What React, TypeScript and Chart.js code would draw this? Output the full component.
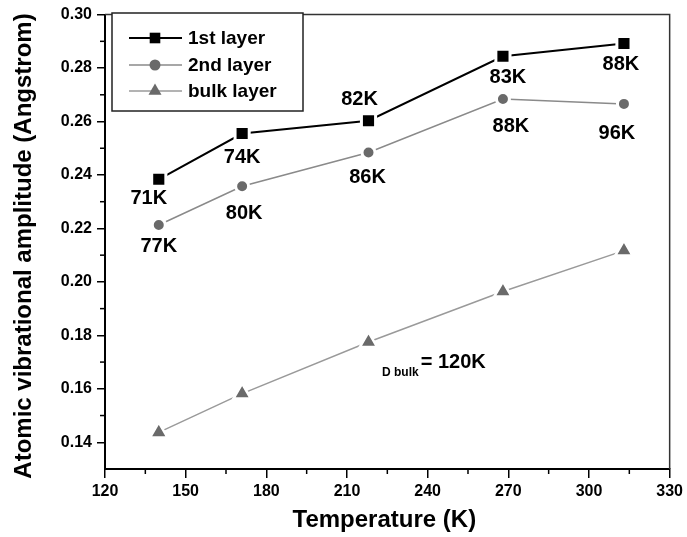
import React, { useEffect, useRef } from 'react';
import { Chart, registerables } from 'chart.js';

Chart.register(...registerables);

// ---- data ----
const temperatures = [140, 171, 218, 268, 313];
const firstLayer = [0.2384, 0.2555, 0.2603, 0.2844, 0.2892];
const secondLayer = [0.2213, 0.2358, 0.2484, 0.2684, 0.2666];
const bulkLayer = [0.1437, 0.1582, 0.1775, 0.1964, 0.2117];
const firstLabels = ['71K', '74K', '82K', '83K', '88K'];
const secondLabels = ['77K', '80K', '86K', '88K', '96K'];
const seriesNames = ['1st layer', '2nd layer', 'bulk layer'];
const xTicks = [120, 150, 180, 210, 240, 270, 300, 330];
const yTicks = [0.14, 0.16, 0.18, 0.2, 0.22, 0.24, 0.26, 0.28, 0.3];
const xMinorTicks = [135, 165, 195, 225, 255, 285, 315];
const yMinorTicks = [0.15, 0.17, 0.19, 0.21, 0.23, 0.25, 0.27, 0.29];
const xTitle = 'Temperature (K)';
const yTitle = 'Atomic vibrational amplitude (Angstrom)';
const annotationSub = 'D bulk';
const annotationMain = '= 120K';

// ---- label placement (pixel offsets from their point) ----
const firstOffsets = [[-10, 19], [0, 24], [-9, -21], [5, 21], [-3, 21]];
const secondOffsets = [[0, 22], [2, 27], [-1, 25], [8, 27], [-7, 30]];
const annotationAnchor = { x: 237.4, y: 0.1697 };

const FONT = "'Liberation Sans', Arial, Helvetica, sans-serif";

function drawMarker(ctx: CanvasRenderingContext2D, style: string, x: number, y: number, r: number, fill: string) {
  ctx.fillStyle = fill;
  ctx.beginPath();
  if (style === 'rect') {
    const s = r * Math.SQRT1_2;
    ctx.rect(x - s, y - s, 2 * s, 2 * s);
  } else if (style === 'circle') {
    ctx.arc(x, y, r, 0, Math.PI * 2);
  } else {
    ctx.moveTo(x, y - r);
    ctx.lineTo(x + r * 0.866, y + r * 0.5);
    ctx.lineTo(x - r * 0.866, y + r * 0.5);
    ctx.closePath();
  }
  ctx.fill();
}

const decorPlugin = {
  id: 'decor',
  afterDraw(chart: any) {
    const ctx: CanvasRenderingContext2D = chart.ctx;
    const a = chart.chartArea;
    const xs = chart.scales.x;
    const ys = chart.scales.y;
    ctx.save();

    // top & right frame
    ctx.strokeStyle = '#333';
    ctx.lineWidth = 1.5;
    ctx.beginPath();
    ctx.moveTo(a.left, a.top);
    ctx.lineTo(a.right, a.top);
    ctx.lineTo(a.right, a.bottom);
    ctx.stroke();

    // minor ticks
    ctx.strokeStyle = '#000';
    ctx.lineWidth = 1.5;
    xMinorTicks.forEach((v) => {
      const px = xs.getPixelForValue(v);
      ctx.beginPath();
      ctx.moveTo(px, a.bottom);
      ctx.lineTo(px, a.bottom + 5);
      ctx.stroke();
    });
    yMinorTicks.forEach((v) => {
      const py = ys.getPixelForValue(v);
      ctx.beginPath();
      ctx.moveTo(a.left, py);
      ctx.lineTo(a.left - 5, py);
      ctx.stroke();
    });

    // point labels
    ctx.fillStyle = '#000';
    ctx.font = `bold 20px ${FONT}`;
    ctx.textAlign = 'center';
    ctx.textBaseline = 'middle';
    const m0 = chart.getDatasetMeta(0).data;
    const m1 = chart.getDatasetMeta(1).data;
    firstLabels.forEach((t, i) => {
      const p = m0[i];
      ctx.fillText(t, p.x + firstOffsets[i][0], p.y + firstOffsets[i][1]);
    });
    secondLabels.forEach((t, i) => {
      const p = m1[i];
      ctx.fillText(t, p.x + secondOffsets[i][0], p.y + secondOffsets[i][1]);
    });

    // annotation
    const ax = xs.getPixelForValue(annotationAnchor.x);
    const ay = ys.getPixelForValue(annotationAnchor.y);
    ctx.textAlign = 'left';
    ctx.font = `bold 20px ${FONT}`;
    ctx.fillText(annotationMain, ax, ay);
    ctx.textAlign = 'right';
    ctx.font = `bold 12px ${FONT}`;
    ctx.fillText(annotationSub, ax - 2, ay + 10);

    // legend
    const lx = 112, ly = 13, lw = 191, lh = 98;
    ctx.fillStyle = '#fff';
    ctx.fillRect(lx, ly, lw, lh);
    ctx.strokeStyle = '#222';
    ctx.lineWidth = 1.5;
    ctx.strokeRect(lx, ly, lw, lh);
    const rows = [38, 65, 91];
    chart.data.datasets.forEach((ds: any, i: number) => {
      const y = rows[i];
      ctx.strokeStyle = ds.borderColor;
      ctx.lineWidth = ds.borderWidth;
      ctx.beginPath();
      ctx.moveTo(129, y);
      ctx.lineTo(182, y);
      ctx.stroke();
      drawMarker(ctx, ds.pointStyle, 155, y, ds.legendRadius, ds.pointBackgroundColor);
      ctx.fillStyle = '#000';
      ctx.font = `bold 19px ${FONT}`;
      ctx.textAlign = 'left';
      ctx.textBaseline = 'middle';
      ctx.fillText(ds.label, 188, y + 1);
    });

    // axis titles
    ctx.fillStyle = '#000';
    ctx.font = `bold 24px ${FONT}`;
    ctx.textAlign = 'center';
    ctx.textBaseline = 'middle';
    ctx.fillText(xTitle, (a.left + a.right) / 2 - 3, 520);
    ctx.save();
    ctx.translate(24, 246);
    ctx.rotate(-Math.PI / 2);
    ctx.font = `bold 24px ${FONT}`;
    ctx.fillText(yTitle, 0, 0);
    ctx.restore();

    ctx.restore();
  },
};

export default function App() {
  const ref = useRef<HTMLCanvasElement | null>(null);

  useEffect(() => {
    document.body.style.margin = '0';
    const canvas = ref.current;
    if (!canvas) return;
    const toPts = (ys: number[]) => temperatures.map((x, i) => ({ x, y: ys[i] }));
    const chart = new Chart(canvas, {
      type: 'scatter',
      data: {
        datasets: [
          {
            label: seriesNames[0],
            data: toPts(firstLayer),
            showLine: true,
            borderColor: '#000',
            borderWidth: 2,
            pointStyle: 'rect',
            pointRadius: 10,
            pointBackgroundColor: '#000',
            pointBorderColor: '#fff',
            pointBorderWidth: 3,
            legendRadius: 7.5,
          } as any,
          {
            label: seriesNames[1],
            data: toPts(secondLayer),
            showLine: true,
            borderColor: '#8a8a8a',
            borderWidth: 1.5,
            pointStyle: 'circle',
            pointRadius: 6.5,
            pointBackgroundColor: '#6a6a6a',
            pointBorderColor: '#fff',
            pointBorderWidth: 3,
            legendRadius: 5.5,
          } as any,
          {
            label: seriesNames[2],
            data: toPts(bulkLayer),
            showLine: true,
            borderColor: '#9a9a9a',
            borderWidth: 1.5,
            pointStyle: 'triangle',
            pointRadius: 10,
            pointBackgroundColor: '#6a6a6a',
            pointBorderColor: '#fff',
            pointBorderWidth: 2.5,
            legendRadius: 7.5,
          } as any,
        ],
      },
      options: {
        animation: false,
        responsive: false,
        devicePixelRatio: 1,
        layout: { padding: { top: 10, right: 15, left: 0, bottom: 0 } },
        plugins: { legend: { display: false }, tooltip: { enabled: false } },
        scales: {
          x: {
            type: 'linear',
            min: 120,
            max: 330,
            afterBuildTicks: (s: any) => {
              s.ticks = xTicks.map((v) => ({ value: v }));
            },
            afterFit: (s: any) => {
              s.height = 68;
            },
            grid: { drawOnChartArea: false, drawTicks: true, tickLength: 9, color: '#000', lineWidth: 1.5 },
            border: { display: true, color: '#000', width: 2 },
            ticks: {
              color: '#000',
              padding: 4,
              font: { family: FONT, size: 16, weight: 'bold' },
              callback: (v: any) => String(v),
            },
          },
          y: {
            type: 'linear',
            min: 0.13,
            max: 0.3,
            afterBuildTicks: (s: any) => {
              s.ticks = yTicks.map((v) => ({ value: v }));
            },
            afterFit: (s: any) => {
              s.width = 105;
            },
            grid: { drawOnChartArea: false, drawTicks: true, tickLength: 8, color: '#000', lineWidth: 1.5 },
            border: { display: true, color: '#000', width: 2 },
            ticks: {
              color: '#000',
              padding: 5,
              font: { family: FONT, size: 16, weight: 'bold' },
              callback: (v: any) => Number(v).toFixed(2),
            },
          },
        },
      } as any,
      plugins: [decorPlugin],
    });
    return () => chart.destroy();
  }, []);

  return (
    <div style={{ width: 687, height: 537 }}>
      <canvas ref={ref} width={687} height={537} style={{ display: 'block' }} />
    </div>
  );
}
